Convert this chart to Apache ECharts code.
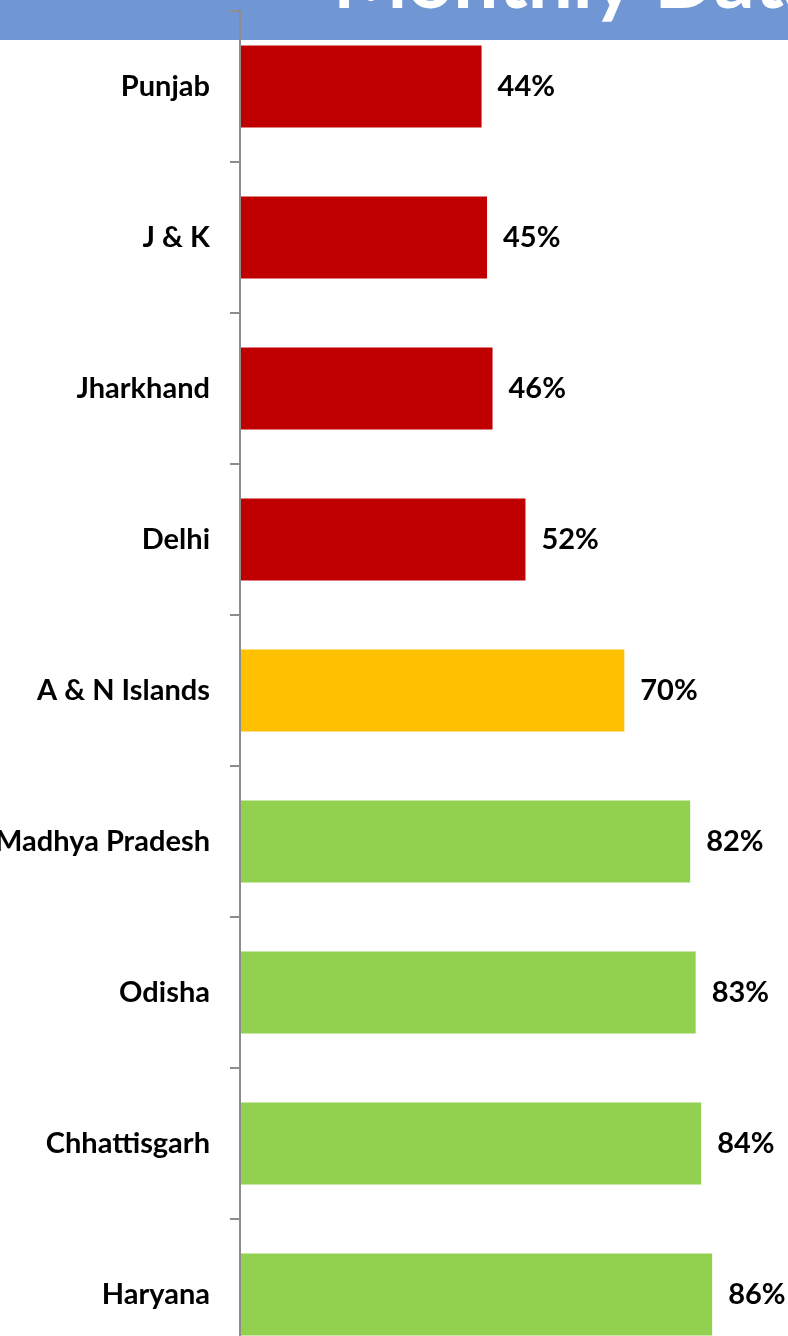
<!DOCTYPE html>
<html>
<head>
<meta charset="utf-8">
<script src="https://cdn.jsdelivr.net/npm/echarts@6/dist/echarts.min.js"></script>
<style>
    html, body { margin: 0; padding: 0; background: #fff; }
    #chart { width: 788px; height: 1336px; }
</style>
</head>
<body>
<div id="chart"></div>
<script>
var states = ['Punjab', 'J & K', 'Jharkhand', 'Delhi', 'A & N Islands', 'Madhya Pradesh', 'Odisha', 'Chhattisgarh', 'Haryana'];
var scores = [44, 45, 46, 52, 70, 82, 83, 84, 86];
var barColors = ['#C00000', '#C00000', '#C00000', '#C00000', '#FFC000', '#92D050', '#92D050', '#92D050', '#92D050'];
var headerText = 'Monthly Data';

var font = 'Lato';

var chart = echarts.init(document.getElementById('chart'));
chart.setOption({
    animation: false,
    backgroundColor: '#fff',
    graphic: [
        {
            type: 'rect',
            z: -10,
            shape: { x: 0, y: 0, width: 788, height: 40 },
            style: { fill: '#7097D3' }
        },
        {
            type: 'text',
            z: 10,
            left: 333,
            top: -58,
            style: {
                text: headerText,
                fill: '#fff',
                font: 'bold 80px ' + font
            }
        }
    ],
    grid: {
        left: 240,
        width: 549,
        top: 11,
        height: 1359,
        outerBoundsMode: 'none',
        containLabel: false
    },
    xAxis: {
        type: 'value',
        min: 0,
        max: 100,
        show: false
    },
    yAxis: {
        type: 'category',
        inverse: true,
        data: states,
        z: 5,
        axisLine: { show: true, lineStyle: { color: '#8C8C8C', width: 2 } },
        axisTick: { show: true, alignWithLabel: false, length: 10, lineStyle: { color: '#8C8C8C', width: 2 } },
        axisLabel: {
            margin: 30,
            color: '#000',
            fontFamily: font,
            fontWeight: 'bold',
            fontSize: 29
        }
    },
    series: [{
        type: 'bar',
        barWidth: 82,
        data: scores.map(function (v, i) {
            return { value: v, itemStyle: { color: barColors[i] } };
        }),
        label: {
            show: true,
            position: 'right',
            distance: 16,
            formatter: '{c}%',
            color: '#000',
            fontFamily: font,
            fontWeight: 'bold',
            fontSize: 29
        }
    }]
});
</script>
</body>
</html>
